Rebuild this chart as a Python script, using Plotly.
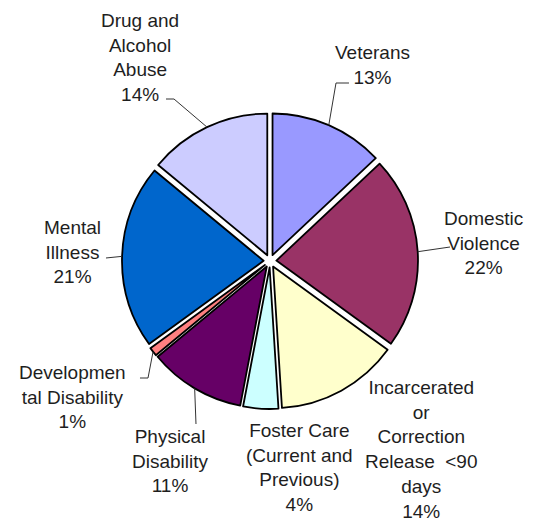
import math
import plotly.graph_objects as go

# ---- data ----
categories = ["Veterans", "Domestic Violence", "Incarcerated or Correction Release <90 days",
              "Foster Care (Current and Previous)", "Physical Disability",
              "Developmental Disability", "Mental Illness", "Drug and Alcohol Abuse"]
display_labels = ["Veterans", "Domestic<br>Violence", "Incarcerated<br>or<br>Correction<br>Release  <90<br>days",
                  "Foster Care<br>(Current and<br>Previous)", "Physical<br>Disability",
                  "Developmen<br>tal Disability", "Mental<br>Illness", "Drug and<br>Alcohol<br>Abuse"]
percent_values = [13, 22, 14, 4, 11, 1, 21, 14]
colors = ["#9999FF", "#993366", "#FFFFCC", "#CCFFFF", "#660066", "#FF8080", "#0066CC", "#CCCCFF"]

W, H = 544, 521
CX, CY, RT = 270, 261, 148  # pie centre and outer extent (pixels)

def px(x):
    return x / W

def py(y):
    return 1 - y / H

fig = go.Figure(go.Pie(
    labels=categories,
    values=percent_values,
    sort=False,
    direction="clockwise",
    rotation=0,
    pull=0.045,
    textinfo="none",
    hoverinfo="label+percent",
    marker=dict(colors=colors, line=dict(color="black", width=1.8)),
    domain=dict(x=[px(CX - RT), px(CX + RT)], y=[py(CY + RT), py(CY - RT)]),
    showlegend=False,
))

# label placement (pixels: centre of text block) and leader elbows
label_pos = [(372, 65), (483, 243), (421, 449), (299, 467), (170, 461), (72, 397), (72, 252), (140, 57)]
leaders = {0: [(349, 83), (336, 83)], 1: [(450, 247)], 4: [(196, 424)],
           5: [(140, 378), (148, 378)], 6: [(106, 258)], 7: [(166, 99), (174, 99)]}

total = sum(percent_values)
cum = 0
mids = []
for v in percent_values:
    mids.append((cum + v / 2) / total)
    cum += v

annotations = []
shapes = []
for i, (lab, v) in enumerate(zip(display_labels, percent_values)):
    x, y = label_pos[i]
    annotations.append(dict(
        x=px(x), y=py(y), xref="paper", yref="paper",
        text=f"{lab}<br>{v}%", showarrow=False, align="center",
        xanchor="center", yanchor="middle",
        font=dict(family="Liberation Sans, Arial, sans-serif", size=19, color="#1e1e1e"),
    ))
    if i in leaders:
        ang = 2 * math.pi * mids[i]
        ex = CX + RT * math.sin(ang)
        ey = CY - RT * math.cos(ang)
        pts = leaders[i] + [(ex, ey)]
        path = "M " + " L ".join(f"{px(a):.5f},{py(b):.5f}" for a, b in pts)
        shapes.append(dict(type="path", path=path, xref="paper", yref="paper",
                           line=dict(color="#333333", width=1)))

fig.update_layout(
    width=W, height=H,
    margin=dict(l=0, r=0, t=0, b=0),
    paper_bgcolor="white", plot_bgcolor="white",
    annotations=annotations, shapes=shapes,
)

fig.write_html("out.html", config={"displayModeBar": False},
               post_script="document.body.style.margin='0';")
